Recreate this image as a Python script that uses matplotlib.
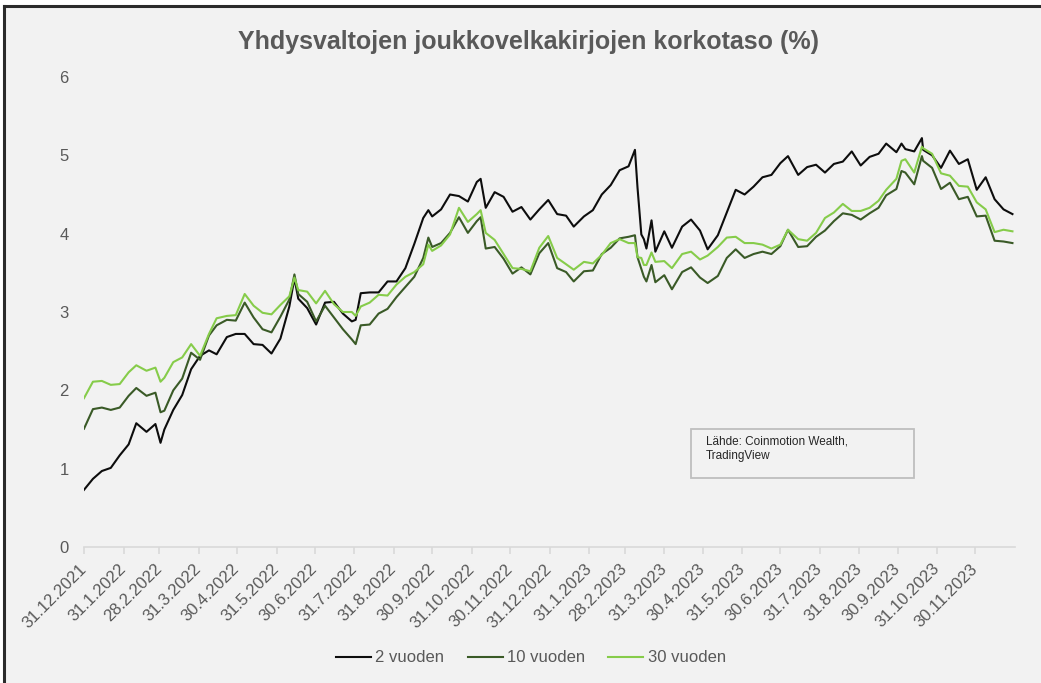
import matplotlib
matplotlib.use("Agg")
import matplotlib.pyplot as plt
import matplotlib.dates as mdates
from matplotlib.patches import Rectangle
from matplotlib.lines import Line2D
import pandas as pd

# viikkotason havainnot (luettu kuvasta)
dates = [
    "2021-12-31", "2022-01-07", "2022-01-14", "2022-01-21", "2022-01-28", "2022-02-04", "2022-02-10",
    "2022-02-18", "2022-02-25", "2022-03-01", "2022-03-04", "2022-03-11", "2022-03-18", "2022-03-25",
    "2022-04-01", "2022-04-08", "2022-04-14", "2022-04-22", "2022-04-29", "2022-05-06", "2022-05-13",
    "2022-05-20", "2022-05-27", "2022-06-03", "2022-06-10", "2022-06-14", "2022-06-17", "2022-06-24",
    "2022-07-01", "2022-07-08", "2022-07-15", "2022-07-22", "2022-07-29", "2022-08-01", "2022-08-05",
    "2022-08-12", "2022-08-19", "2022-08-26", "2022-09-02", "2022-09-09", "2022-09-16", "2022-09-23",
    "2022-09-27", "2022-09-30", "2022-10-07", "2022-10-14", "2022-10-21", "2022-10-28", "2022-11-04",
    "2022-11-07", "2022-11-11", "2022-11-18", "2022-11-25", "2022-12-02", "2022-12-09", "2022-12-16",
    "2022-12-23", "2022-12-30", "2023-01-06", "2023-01-13", "2023-01-19", "2023-01-27", "2023-02-03",
    "2023-02-10", "2023-02-17", "2023-02-24", "2023-03-03", "2023-03-08", "2023-03-10", "2023-03-13",
    "2023-03-15", "2023-03-17", "2023-03-21", "2023-03-24", "2023-03-31", "2023-04-06", "2023-04-14",
    "2023-04-21", "2023-04-28", "2023-05-04", "2023-05-12", "2023-05-19", "2023-05-26", "2023-06-02",
    "2023-06-09", "2023-06-16", "2023-06-23", "2023-06-30", "2023-07-06", "2023-07-14", "2023-07-21",
    "2023-07-28", "2023-08-04", "2023-08-11", "2023-08-18", "2023-08-25", "2023-09-01", "2023-09-08",
    "2023-09-15", "2023-09-21", "2023-09-29", "2023-10-03", "2023-10-06", "2023-10-13", "2023-10-19",
    "2023-10-20", "2023-10-27", "2023-11-03", "2023-11-10", "2023-11-17", "2023-11-24", "2023-12-01",
    "2023-12-08", "2023-12-15", "2023-12-22", "2023-12-29",
]

y2 = [
    0.73, 0.87, 0.97, 1.01, 1.17, 1.31, 1.58,
    1.47, 1.57, 1.33, 1.50, 1.75, 1.94, 2.27,
    2.44, 2.51, 2.46, 2.68, 2.72, 2.72, 2.59,
    2.58, 2.47, 2.66, 3.07, 3.43, 3.17, 3.05,
    2.84, 3.12, 3.13, 2.98, 2.88, 2.90, 3.24,
    3.25, 3.25, 3.39, 3.39, 3.56, 3.87, 4.20,
    4.30, 4.22, 4.31, 4.50, 4.48, 4.41, 4.66,
    4.70, 4.33, 4.53, 4.47, 4.28, 4.34, 4.18,
    4.31, 4.43, 4.25, 4.23, 4.09, 4.22, 4.30,
    4.50, 4.62, 4.81, 4.86, 5.07, 4.59, 3.99,
    3.93, 3.81, 4.17, 3.77, 4.03, 3.82, 4.09,
    4.18, 4.04, 3.80, 3.98, 4.27, 4.56, 4.50,
    4.60, 4.72, 4.75, 4.90, 4.99, 4.75, 4.85,
    4.88, 4.78, 4.89, 4.92, 5.05, 4.87, 4.98,
    5.02, 5.15, 5.04, 5.15, 5.08, 5.05, 5.22,
    5.07, 5.00, 4.84, 5.06, 4.89, 4.95, 4.56,
    4.72, 4.44, 4.31, 4.25,
]

y10 = [
    1.51, 1.76, 1.78, 1.75, 1.78, 1.93, 2.03,
    1.93, 1.97, 1.72, 1.74, 2.00, 2.15, 2.48,
    2.39, 2.70, 2.83, 2.90, 2.89, 3.12, 2.93,
    2.78, 2.74, 2.94, 3.16, 3.48, 3.23, 3.13,
    2.88, 3.08, 2.93, 2.78, 2.65, 2.59, 2.83,
    2.84, 2.98, 3.04, 3.19, 3.32, 3.45, 3.69,
    3.95, 3.83, 3.88, 4.01, 4.21, 4.01, 4.16,
    4.21, 3.81, 3.83, 3.68, 3.49, 3.57, 3.48,
    3.75, 3.88, 3.56, 3.51, 3.39, 3.52, 3.53,
    3.74, 3.82, 3.94, 3.96, 3.98, 3.70, 3.55,
    3.45, 3.39, 3.60, 3.38, 3.47, 3.29, 3.51,
    3.57, 3.44, 3.37, 3.46, 3.69, 3.80, 3.69,
    3.74, 3.77, 3.74, 3.84, 4.05, 3.83, 3.84,
    3.96, 4.04, 4.16, 4.26, 4.24, 4.18, 4.26,
    4.33, 4.49, 4.57, 4.80, 4.78, 4.63, 4.99,
    4.93, 4.84, 4.57, 4.65, 4.44, 4.47, 4.22,
    4.23, 3.91, 3.90, 3.88,
]

y30 = [
    1.90, 2.11, 2.12, 2.07, 2.08, 2.23, 2.32,
    2.25, 2.29, 2.11, 2.16, 2.36, 2.42, 2.59,
    2.44, 2.72, 2.92, 2.95, 2.96, 3.23, 3.08,
    2.99, 2.97, 3.09, 3.20, 3.44, 3.28, 3.26,
    3.11, 3.27, 3.10, 3.00, 3.00, 2.95, 3.07,
    3.12, 3.22, 3.21, 3.35, 3.45, 3.51, 3.61,
    3.86, 3.78, 3.85, 3.99, 4.33, 4.15, 4.25,
    4.30, 4.01, 3.92, 3.74, 3.56, 3.55, 3.52,
    3.82, 3.97, 3.69, 3.61, 3.54, 3.64, 3.62,
    3.73, 3.88, 3.93, 3.88, 3.88, 3.70, 3.69,
    3.60, 3.60, 3.76, 3.64, 3.65, 3.56, 3.74,
    3.77, 3.67, 3.72, 3.83, 3.95, 3.96, 3.88,
    3.88, 3.86, 3.81, 3.86, 4.05, 3.93, 3.91,
    4.01, 4.20, 4.27, 4.38, 4.29, 4.29, 4.33,
    4.42, 4.56, 4.70, 4.93, 4.95, 4.78, 5.11,
    5.09, 5.02, 4.77, 4.74, 4.61, 4.60, 4.40,
    4.31, 4.02, 4.05, 4.03,
]

series_names = ["2 vuoden", "10 vuoden", "30 vuoden"]
series_colors = ["#0d0d0d", "#3a5a27", "#86cc4a"]

tick_labels = [
    "31.12.2021", "31.1.2022", "28.2.2022", "31.3.2022", "30.4.2022", "31.5.2022", "30.6.2022",
    "31.7.2022", "31.8.2022", "30.9.2022", "31.10.2022", "30.11.2022", "31.12.2022", "31.1.2023",
    "28.2.2023", "31.3.2023", "30.4.2023", "31.5.2023", "30.6.2023", "31.7.2023", "31.8.2023",
    "30.9.2023", "31.10.2023", "30.11.2023",
]

title = "Yhdysvaltojen joukkovelkakirjojen korkotaso (%)"
source = "Lähde: Coinmotion Wealth,\nTradingView"

W, H = 1041, 683
bg = "#f2f2f2"
grey = "#595959"

plt.rcParams["font.family"] = ["Liberation Sans", "DejaVu Sans"]

fig = plt.figure(figsize=(W / 100, H / 100), dpi=100, facecolor="white")
fig.add_artist(Rectangle((4 / W, 0), 1, 1 - 6 / H, transform=fig.transFigure,
                         facecolor=bg, edgecolor="none", zorder=-10))
fig.add_artist(Line2D([4 / W, 1], [1 - 6 / H, 1 - 6 / H], transform=fig.transFigure,
                      color="#2b2b2b", lw=2.2))
fig.add_artist(Line2D([4 / W, 4 / W], [0, 1 - 6 / H], transform=fig.transFigure,
                      color="#2b2b2b", lw=2.2))

ax = fig.add_axes([84 / W, (H - 547) / H, (1015 - 84) / W, 470 / H])
ax.set_facecolor("none")

x = pd.to_datetime(dates)
for vals, name, col in zip([y2, y10, y30], series_names, series_colors):
    ax.plot(x, vals, color=col, lw=1.5, label=name)

ax.set_xlim(pd.Timestamp("2021-12-31"), pd.Timestamp("2023-12-31"))
ax.set_ylim(0, 6)
ax.set_yticks(range(0, 7))

tick_pos = pd.to_datetime(tick_labels, format="%d.%m.%Y")
ax.set_xticks(tick_pos)
ax.set_xticklabels(tick_labels, rotation=45, ha="right", va="center", rotation_mode="anchor")

for s in ["top", "right", "left"]:
    ax.spines[s].set_visible(False)
ax.spines["bottom"].set_color("#d9d9d9")
ax.spines["bottom"].set_linewidth(1.2)
ax.tick_params(axis="x", colors="#d9d9d9", length=5, width=1.2, pad=9,
               labelcolor=grey, labelsize=12)
ax.tick_params(axis="y", length=0, pad=11, labelcolor=grey, labelsize=12)

fig.text(528 / W, 1 - 42 / H, title, ha="center", va="center", fontsize=18,
         fontweight="bold", color=grey,
         family=["Liberation Sans Narrow", "Liberation Sans", "DejaVu Sans"])

# lähdelaatikko
fig.add_artist(Rectangle((691 / W, 1 - 478 / H), 223 / W, 49 / H, transform=fig.transFigure,
                         facecolor="none", edgecolor="#bfbfbf", lw=1.3))
fig.text(706 / W, 1 - 436 / H, source, ha="left", va="top", fontsize=8.5,
         color="#262626", linespacing=1.25)

leg = fig.legend(loc="center", bbox_to_anchor=(531 / W, 1 - 658 / H), ncol=3,
                 frameon=False, fontsize=12, handlelength=2.1, handletextpad=0.25,
                 columnspacing=1.4)
for t in leg.get_texts():
    t.set_color(grey)

fig.savefig("out.png", dpi=100, facecolor=fig.get_facecolor())
